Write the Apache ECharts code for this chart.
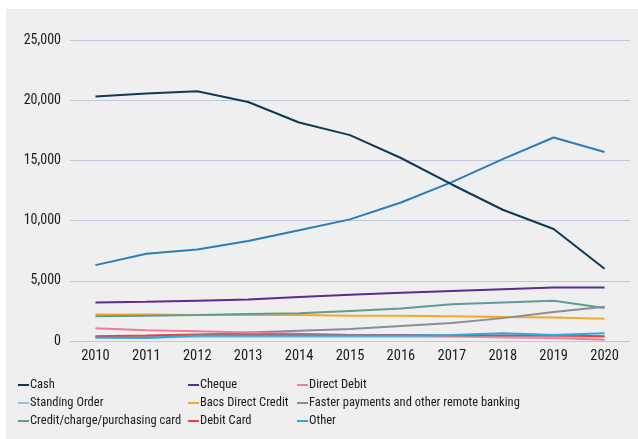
<!DOCTYPE html>
<html>
<head>
<meta charset="utf-8">
<script src="https://cdn.jsdelivr.net/npm/echarts@6/dist/echarts.min.js"></script>
<style>
  html, body { margin: 0; padding: 0; background: #ffffff; }
  #chart { width: 638px; height: 439px; }
</style>
</head>
<body>
<div id="chart"></div>
<script>
// Payment volumes (millions), 2010–2020
const years = ['2010','2011','2012','2013','2014','2015','2016','2017','2018','2019','2020'];

const cash            = [20300, 20550, 20750, 19850, 18150, 17100, 15200, 13000, 10900, 9300, 6000];
const cardPayments    = [6300, 7250, 7600, 8300, 9200, 10100, 11500, 13200, 15100, 16900, 15700];
const cheque          = [3200, 3250, 3350, 3450, 3650, 3850, 4000, 4150, 4300, 4450, 4450];
const creditCard      = [2050, 2100, 2150, 2250, 2300, 2500, 2700, 3050, 3200, 3350, 2750];
const bacsDirectCredit= [2200, 2200, 2150, 2150, 2150, 2100, 2100, 2050, 2000, 1950, 1850];
const fasterPayments  = [350, 400, 500, 700, 850, 1000, 1250, 1500, 1900, 2400, 2850];
const directDebit     = [1050, 900, 800, 700, 600, 500, 450, 400, 300, 250, 100];
const standingOrder   = [300, 300, 350, 350, 350, 350, 350, 350, 350, 350, 350];
const debitCard       = [400, 450, 550, 550, 550, 500, 500, 450, 450, 450, 400];
const other           = [300, 250, 450, 450, 450, 450, 450, 500, 650, 500, 650];

const yTicks = [0, 5000, 10000, 15000, 20000, 25000];

const colors = {
  'Cash': '#0e3a56',
  'Card payments': '#2a7db9',
  'Cheque': '#5a2d91',
  'Direct Debit': '#f07b9c',
  'Standing Order': '#8fc0e4',
  'Bacs Direct Credit': '#f5a72a',
  'Faster payments and other remote banking': '#8a8d91',
  'Credit/charge/purchasing card': '#609c95',
  'Debit Card': '#e8433b',
  'Other': '#2aa8e0'
};

const seriesData = [
  ['Card payments', cardPayments],
  ['Cheque', cheque],
  ['Bacs Direct Credit', bacsDirectCredit],
  ['Credit/charge/purchasing card', creditCard],
  ['Faster payments and other remote banking', fasterPayments],
  ['Direct Debit', directDebit],
  ['Standing Order', standingOrder],
  ['Debit Card', debitCard],
  ['Other', other],
  ['Cash', cash]
];

const font = '"Roboto Condensed", Roboto, sans-serif';

function legendCol(left, names) {
  return {
    data: names,
    orient: 'vertical',
    left: left,
    top: 377,
    itemWidth: 11,
    itemHeight: 2,
    itemGap: 2,
    icon: 'rect',
    padding: 0,
    selectedMode: false,
    textStyle: { fontFamily: font, fontSize: 12.5, lineHeight: 16, color: '#1a1a1a', padding: [0, 0, 0, -4] }
  };
}

const chart = echarts.init(document.getElementById('chart'), null, { renderer: 'canvas' });
chart.setOption({
  animation: false,
  backgroundColor: '#ffffff',
  graphic: [{
    type: 'rect', left: 6, top: 9, z: -10,
    shape: { width: 632, height: 430 },
    style: { fill: '#efefef' }
  }],
  grid: { left: 70, right: 8, top: 40, bottom: 98 },
  legend: [
    legendCol(18, ['Cash', 'Standing Order', 'Credit/charge/purchasing card']),
    legendCol(188, ['Cheque', 'Bacs Direct Credit', 'Debit Card']),
    legendCol(297, ['Direct Debit', 'Faster payments and other remote banking', 'Other'])
  ],
  xAxis: {
    type: 'category',
    data: years,
    boundaryGap: true,
    axisLine: { show: false },
    axisTick: { show: false },
    axisLabel: { fontFamily: font, fontSize: 14.5, color: '#1a1a1a', margin: 8 }
  },
  yAxis: {
    type: 'value',
    min: yTicks[0],
    max: yTicks[yTicks.length - 1],
    interval: 5000,
    axisLine: { show: false },
    axisTick: { show: false },
    axisLabel: {
      fontFamily: font, fontSize: 14, color: '#1a1a1a', margin: 9,
      formatter: v => v.toLocaleString('en-US')
    },
    splitLine: { lineStyle: { color: '#c3c6d8', width: 1 } }
  },
  series: seriesData.map(([name, data]) => ({
    name: name,
    type: 'line',
    data: data,
    symbol: 'none',
    smooth: false,
    color: colors[name],
    lineStyle: { width: 2, color: colors[name] }
  }))
});
</script>
</body>
</html>
